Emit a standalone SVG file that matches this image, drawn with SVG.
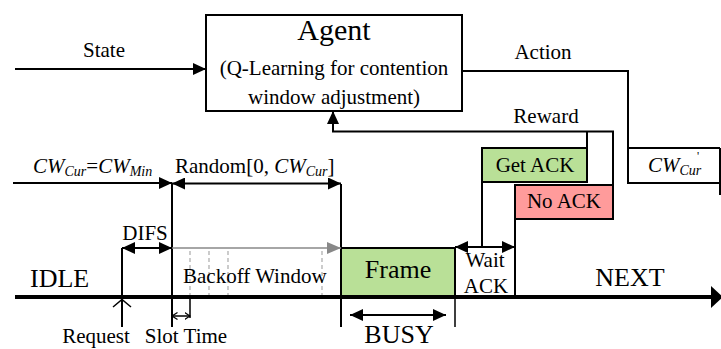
<svg xmlns="http://www.w3.org/2000/svg" width="721" height="349" viewBox="0 0 721 349">
  <style>
    text { font-family: "Liberation Serif", "Times New Roman", serif; fill: #000; }
    .lbl { font-size: 21px; }
    .big { font-size: 26px; }
    .mid { text-anchor: middle; }
    .it { font-style: italic; }
    .sub { font-size: 14px; }
    .ln { stroke: #000; stroke-width: 2; fill: none; }
    .thin { stroke: #000; stroke-width: 1.5; fill: none; }
    .gray { stroke: #888; stroke-width: 1.6; fill: none; }
    .dash { stroke: #aaa; stroke-width: 1.2; stroke-dasharray: 4 3; fill: none; }
    .box { stroke: #000; stroke-width: 2; }
  </style>
  <defs>
    <marker id="arr" markerUnits="userSpaceOnUse" markerWidth="13" markerHeight="12" refX="13" refY="6" orient="auto-start-reverse">
      <path d="M0,0 L13,6 L0,12 z" fill="#000"/>
    </marker>
    <marker id="arrGray" markerUnits="userSpaceOnUse" markerWidth="14" markerHeight="12" refX="14" refY="6" orient="auto-start-reverse">
      <path d="M0,0 L14,6 L0,12 z" fill="#888"/>
    </marker>
    <marker id="open" markerUnits="userSpaceOnUse" markerWidth="6" markerHeight="8" refX="5.5" refY="4" orient="auto-start-reverse">
      <path d="M0,0.5 L5.5,4 L0,7.5" fill="none" stroke="#000" stroke-width="1.2"/>
    </marker>
  </defs>

  <!-- Agent -->
  <g id="agent">
    <rect class="box" x="206" y="15" width="256" height="96" fill="#fff"/>
    <text x="334" y="40" class="mid" style="font-size:30px">Agent</text>
    <text x="334" y="75" class="lbl mid">(Q-Learning for contention</text>
    <text x="334" y="104" class="lbl mid">window adjustment)</text>
  </g>

  <!-- Next contention window value -->
  <g id="cw-next">
    <path class="box" d="M628,148 H720 M720,148 V195 M628,148 V183 H720" fill="none"/>
    <text x="648" y="172" class="lbl it">CW<tspan class="sub" dy="3">Cur</tspan></text>
    <text x="697" y="160" style="font-size:12px">'</text>
  </g>

  <!-- Outcomes -->
  <g id="get-ack">
    <rect class="box" x="482" y="148" width="105" height="34" fill="#b9e097"/>
    <text x="535" y="172" class="lbl mid">Get ACK</text>
  </g>
  <g id="no-ack">
    <rect class="box" x="515" y="185" width="98" height="34" fill="#ff9b9b"/>
    <text x="564" y="208" class="lbl mid">No ACK</text>
  </g>

  <!-- Channel states -->
  <g id="frame">
    <rect class="box" x="341" y="248" width="114" height="49" fill="#b9e097"/>
    <text x="398" y="278" class="big mid">Frame</text>
  </g>
  <g id="wait-ack">
    <text x="485" y="267" class="lbl mid">Wait</text>
    <text x="486" y="293" class="lbl mid">ACK</text>
  </g>
  <g id="backoff">
    <path class="dash" d="M190,251 V296 M209,251 V296 M228,251 V296 M322,251 V296"/>
    <text x="183" y="283" class="lbl" fill="#222">Backoff Window</text>
  </g>
  <g id="idle"><text x="30" y="287" class="big">IDLE</text></g>
  <g id="next"><text x="630" y="286" class="big mid">NEXT</text></g>

  <!-- Connectors -->
  <g id="connectors">
    <!-- state / action / reward -->
    <line class="ln" x1="15" y1="69" x2="206" y2="69" marker-end="url(#arr)"/>
    <path class="ln" d="M462,71 H628 V148"/>
    <path class="ln" d="M613,185 V131.5 H333 V111" marker-end="url(#arr)"/>
    <path class="ln" d="M587,148 V131.5"/>

    <!-- contention window setup -->
    <line class="ln" x1="13" y1="183" x2="172" y2="183" marker-end="url(#arr)"/>
    <line class="ln" x1="172" y1="183.5" x2="341" y2="183.5" marker-start="url(#arr)" marker-end="url(#arr)"/>

    <!-- vertical markers -->
    <path class="ln" d="M122,248 V327 M172,183 V327 M341,184 V327 M482,182 V248 M515,219 V297"/>
    <path class="thin" d="M455,297 V327 M190,297 V318"/>

    <!-- DIFS and backoff -->
    <line class="ln" x1="122" y1="248" x2="172" y2="248" marker-start="url(#arr)" marker-end="url(#arr)"/>
    <line class="gray" x1="172" y1="248" x2="341" y2="248" marker-end="url(#arrGray)"/>

    <!-- wait ACK -->
    <line class="ln" x1="455" y1="247" x2="515" y2="247" marker-start="url(#arr)" marker-end="url(#arr)"/>

    <!-- time axis -->
    <line x1="15" y1="297" x2="712" y2="297" stroke="#000" stroke-width="4"/>
    <polygon points="711,286 723,297 711,308" fill="#000"/>

    <!-- request arrow -->
    <polyline class="thin" points="113,307 122,299.5 131,307"/>

    <!-- slot time and busy -->
    <line class="thin" x1="172" y1="316" x2="190" y2="316" marker-start="url(#open)" marker-end="url(#open)"/>
    <line class="ln" x1="350" y1="315" x2="446" y2="315" marker-start="url(#arr)" marker-end="url(#arr)"/>
  </g>

  <!-- Free labels -->
  <g id="labels">
    <text x="104" y="57" class="lbl mid">State</text>
    <text x="543" y="59" class="lbl mid">Action</text>
    <text x="546" y="123" class="lbl mid">Reward</text>
    <text x="33" y="173" class="lbl it">CW<tspan class="sub" dy="3">Cur</tspan><tspan dy="-3" style="font-style:normal">=</tspan>CW<tspan class="sub" dy="3">Min</tspan></text>
    <text x="175" y="173" class="lbl">Random[0, <tspan class="it">CW</tspan><tspan class="sub it" dy="3">Cur</tspan><tspan dy="-3">]</tspan></text>
    <text x="145" y="240" class="lbl mid">DIFS</text>
    <text x="96" y="343" class="lbl mid">Request</text>
    <text x="186" y="343" class="lbl mid">Slot Time</text>
    <text x="399" y="343" class="big mid">BUSY</text>
  </g>
</svg>
